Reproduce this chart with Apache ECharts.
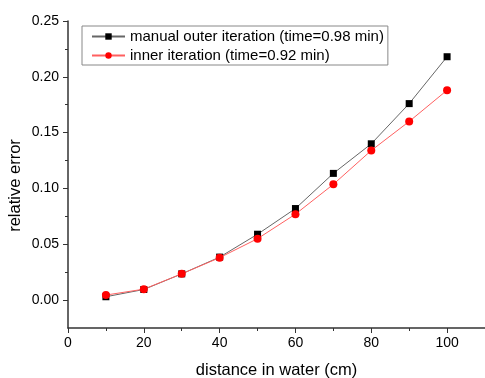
<!DOCTYPE html>
<html><head><meta charset="utf-8">
<script src="https://cdn.jsdelivr.net/npm/echarts@6/dist/echarts.min.js"></script>
<style>html,body{margin:0;padding:0;background:#fff}#c{width:485px;height:378px}</style>
</head><body><div id="c"></div>
<script>
const distances = [10, 20, 30, 40, 50, 60, 70, 80, 90, 100];
const outerErr = [0.003, 0.0095, 0.0235, 0.0385, 0.059, 0.082, 0.1135, 0.140, 0.176, 0.218];
const innerErr = [0.0045, 0.0098, 0.0235, 0.038, 0.055, 0.077, 0.1037, 0.134, 0.160, 0.188];
const seriesNames = ['manual outer iteration (time=0.98 min)', 'inner iteration (time=0.92 min)'];
const FONT = 'Liberation Sans, Arial, sans-serif';

const chart = echarts.init(document.getElementById('c'), null, {renderer: 'canvas'});
chart.setOption({
  animation: false,
  textStyle: {fontFamily: FONT},
  grid: [
    {left: 68, right: 0, top: 21, height: 307, outerBoundsMode: 'none', containLabel: false},
    {left: 68, right: 0, top: 21, height: 279, outerBoundsMode: 'none', containLabel: false}
  ],
  legend: {
    left: 82, top: 26, orient: 'vertical',
    data: seriesNames,
    itemWidth: 33, itemHeight: 8, itemGap: 4,
    borderColor: '#888', borderWidth: 1,
    padding: [3, 4, 2, 9],
    textStyle: {fontSize: 15, color: '#000', fontFamily: FONT}
  },
  xAxis: [
    {
      gridIndex: 0, type: 'value', min: 0, max: 110, interval: 20,
      name: 'distance in water (cm)', nameLocation: 'middle', nameGap: 34,
      nameTextStyle: {fontSize: 16.5, color: '#000', fontFamily: FONT},
      axisLine: {show: true, onZero: false, lineStyle: {color: '#333', width: 1.5}},
      axisTick: {show: true, inside: false, length: 5, lineStyle: {color: '#333'}},
      minorTick: {show: true, splitNumber: 2, length: 3, lineStyle: {color: '#333'}},
      splitLine: {show: false},
      axisLabel: {fontSize: 14, color: '#000', margin: 8, fontFamily: FONT,
        formatter: v => (v <= 100 ? String(v) : '')}
    },
    {gridIndex: 1, type: 'value', min: 0, max: 110, show: false}
  ],
  yAxis: [
    {
      gridIndex: 0, type: 'value', min: -0.025, max: 0.25,
      name: 'relative error', nameLocation: 'middle', nameGap: 44,
      nameTextStyle: {fontSize: 16.5, color: '#000', fontFamily: FONT, padding: [0, 22, 0, 0]},
      axisLine: {show: true, onZero: false, lineStyle: {color: '#333', width: 1.5}},
      axisTick: {show: false}, axisLabel: {show: false}, splitLine: {show: false}
    },
    {
      gridIndex: 1, type: 'value', min: 0, max: 0.25, interval: 0.05,
      axisLine: {show: false, onZero: false},
      axisTick: {show: true, length: 5, lineStyle: {color: '#333'}},
      minorTick: {show: true, splitNumber: 2, length: 3, lineStyle: {color: '#333'}},
      splitLine: {show: false},
      axisLabel: {fontSize: 14, color: '#000', margin: 9, fontFamily: FONT,
        formatter: v => v.toFixed(2)}
    }
  ],
  series: [
    {
      name: seriesNames[0], type: 'line', xAxisIndex: 0, yAxisIndex: 0,
      data: distances.map((d, i) => [d, outerErr[i]]),
      symbol: 'rect', symbolSize: 7,
      itemStyle: {color: '#000'},
      lineStyle: {color: '#666', width: 1}
    },
    {
      name: seriesNames[1], type: 'line', xAxisIndex: 0, yAxisIndex: 0,
      data: distances.map((d, i) => [d, innerErr[i]]),
      symbol: 'circle', symbolSize: 8,
      itemStyle: {color: '#ff0000'},
      lineStyle: {color: '#ff6060', width: 1}
    }
  ]
});
</script></body></html>
